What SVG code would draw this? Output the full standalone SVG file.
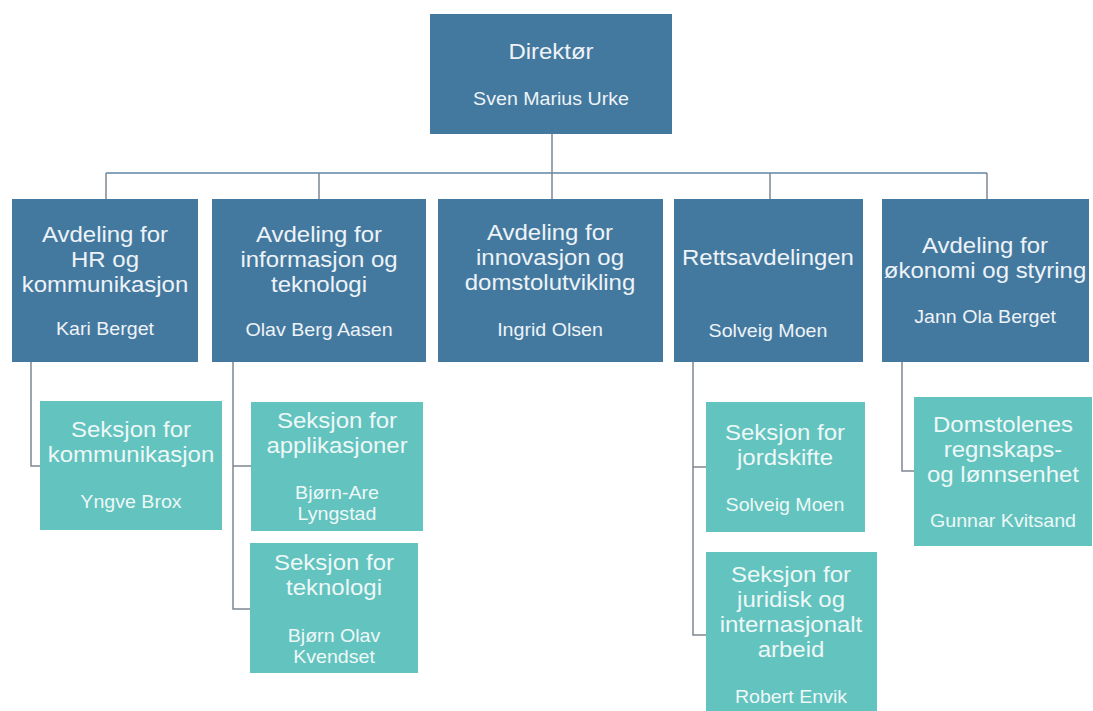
<svg xmlns="http://www.w3.org/2000/svg" width="1093" height="711" viewBox="0 0 1093 711">
<style>
.bg{fill:#ffffff}
.dept{fill:#44799f}
.sec{fill:#62c3bf}
.t{font-family:"Liberation Sans",Arial,sans-serif;font-size:22px;text-anchor:middle;fill:#eef3f8}
.n{font-family:"Liberation Sans",Arial,sans-serif;font-size:18px;text-anchor:middle;fill:#eef3f8}
.st{fill:#eef8f7}
.ln{fill:none;stroke:#7d8791;stroke-width:1.5}
.hl{fill:none;stroke:#5f86a6;stroke-width:1.5}
</style>
<rect class="bg" x="0" y="0" width="1093" height="711"/>
<g id="connectors">
<path class="ln" d="M552 134V173"/>
<path class="hl" d="M106 173H987"/>
<path class="ln" d="M106 173V199M319 173V199M552 173V199M770 173V199M987 173V199"/>
<path class="ln" d="M31 362V466H40"/>
<path class="ln" d="M233 362V609H250M233 466H251"/>
<path class="ln" d="M693 362V635H706M693 467H706"/>
<path class="ln" d="M902 362V471H914"/>
</g>
<g id="direktor">
<rect class="dept" x="430" y="14" width="242" height="120"/>
<g transform="translate(551 0) scale(1.09 1)">
<text class="t" x="0" y="59">Direktør</text>
<text class="n" x="0" y="105">Sven Marius Urke</text>
</g>
</g>
<g id="hr">
<rect class="dept" x="12" y="199" width="186" height="163"/>
<g transform="translate(105 0) scale(1.09 1)">
<text class="t" x="0" y="242">Avdeling for</text>
<text class="t" x="0" y="267">HR og</text>
<text class="t" x="0" y="292">kommunikasjon</text>
<text class="n" x="0" y="335">Kari Berget</text>
</g>
</g>
<g id="it">
<rect class="dept" x="212" y="199" width="214" height="163"/>
<g transform="translate(319 0) scale(1.09 1)">
<text class="t" x="0" y="242">Avdeling for</text>
<text class="t" x="0" y="267">informasjon og</text>
<text class="t" x="0" y="292">teknologi</text>
<text class="n" x="0" y="336">Olav Berg Aasen</text>
</g>
</g>
<g id="innovasjon">
<rect class="dept" x="438" y="199" width="225" height="163"/>
<g transform="translate(550 0) scale(1.09 1)">
<text class="t" x="0" y="240">Avdeling for</text>
<text class="t" x="0" y="265">innovasjon og</text>
<text class="t" x="0" y="290">domstolutvikling</text>
<text class="n" x="0" y="336">Ingrid Olsen</text>
</g>
</g>
<g id="rett">
<rect class="dept" x="674" y="199" width="189" height="163"/>
<g transform="translate(768 0) scale(1.09 1)">
<text class="t" x="0" y="265">Rettsavdelingen</text>
<text class="n" x="0" y="337">Solveig Moen</text>
</g>
</g>
<g id="okonomi">
<rect class="dept" x="882" y="199" width="207" height="163"/>
<g transform="translate(985 0) scale(1.09 1)">
<text class="t" x="0" y="253">Avdeling for</text>
<text class="t" x="0" y="278">økonomi og styring</text>
<text class="n" x="0" y="323">Jann Ola Berget</text>
</g>
</g>
<g id="kommunikasjon">
<rect class="sec" x="40" y="401" width="182" height="129"/>
<g transform="translate(131 0) scale(1.09 1)">
<text class="t st" x="0" y="437">Seksjon for</text>
<text class="t st" x="0" y="462">kommunikasjon</text>
<text class="n st" x="0" y="508">Yngve Brox</text>
</g>
</g>
<g id="applikasjoner">
<rect class="sec" x="251" y="402" width="172" height="129"/>
<g transform="translate(337 0) scale(1.09 1)">
<text class="t st" x="0" y="428">Seksjon for</text>
<text class="t st" x="0" y="453">applikasjoner</text>
<text class="n st" x="0" y="499">Bjørn-Are</text>
<text class="n st" x="0" y="520">Lyngstad</text>
</g>
</g>
<g id="teknologi">
<rect class="sec" x="250" y="543" width="168" height="130"/>
<g transform="translate(334 0) scale(1.09 1)">
<text class="t st" x="0" y="570">Seksjon for</text>
<text class="t st" x="0" y="595">teknologi</text>
<text class="n st" x="0" y="642">Bjørn Olav</text>
<text class="n st" x="0" y="663">Kvendset</text>
</g>
</g>
<g id="jordskifte">
<rect class="sec" x="706" y="402" width="159" height="130"/>
<g transform="translate(785 0) scale(1.09 1)">
<text class="t st" x="0" y="440">Seksjon for</text>
<text class="t st" x="0" y="465">jordskifte</text>
<text class="n st" x="0" y="511">Solveig Moen</text>
</g>
</g>
<g id="juridisk">
<rect class="sec" x="706" y="552" width="171" height="159"/>
<g transform="translate(791 0) scale(1.09 1)">
<text class="t st" x="0" y="582">Seksjon for</text>
<text class="t st" x="0" y="607">juridisk og</text>
<text class="t st" x="0" y="632">internasjonalt</text>
<text class="t st" x="0" y="657">arbeid</text>
<text class="n st" x="0" y="703">Robert Envik</text>
</g>
</g>
<g id="domstolenes">
<rect class="sec" x="914" y="397" width="178" height="149"/>
<g transform="translate(1003 0) scale(1.09 1)">
<text class="t st" x="0" y="432">Domstolenes</text>
<text class="t st" x="0" y="457">regnskaps-</text>
<text class="t st" x="0" y="482">og lønnsenhet</text>
<text class="n st" x="0" y="527">Gunnar Kvitsand</text>
</g>
</g>
</svg>
